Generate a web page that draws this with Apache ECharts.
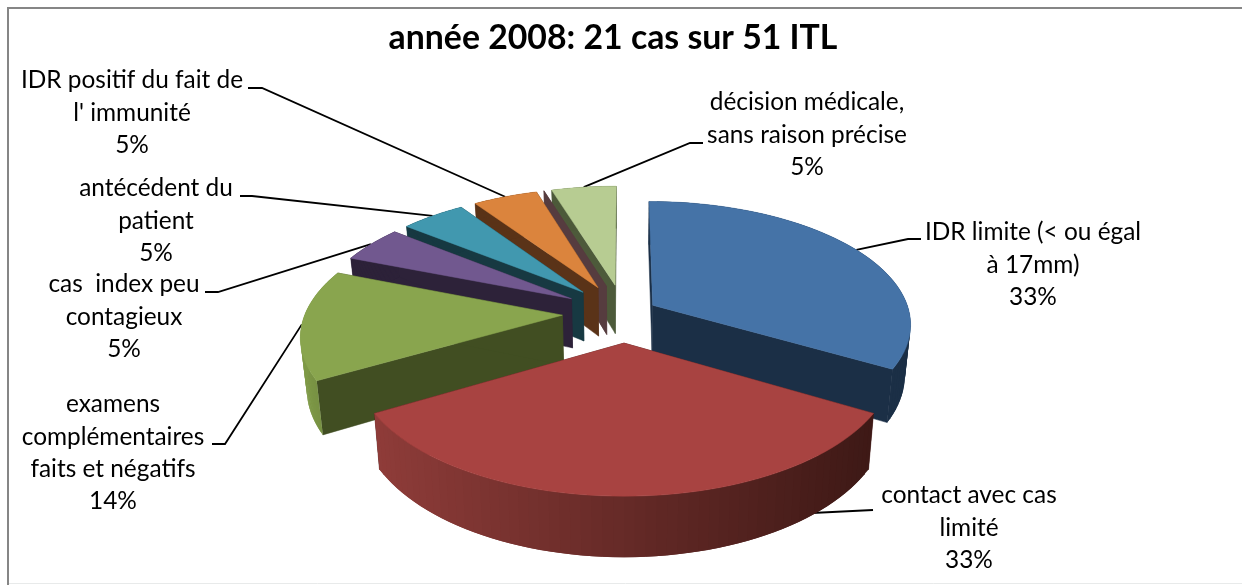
<!DOCTYPE html>
<html>
<head>
<meta charset="utf-8">
<title>année 2008</title>
<style>
html, body { margin: 0; padding: 0; background: #fff; }
#chart { width: 1242px; height: 585px; }
</style>
<script src="https://cdn.jsdelivr.net/npm/echarts@6/dist/echarts.min.js"></script>
</head>
<body>
<div id="chart"></div>
<script>
// nombre de cas par motif, le motif vide n'a qu'une paroi dans l'original
var categories = [
    'IDR limite (< ou égal\nà 17mm)',
    'contact avec cas\nlimité',
    'examens\ncomplémentaires\nfaits et négatifs',
    'cas  index peu\ncontagieux',
    'antécédent du\npatient',
    'IDR positif du fait de\nl\' immunité',
    '',
    'décision médicale,\nsans raison précise'
];
var cases = [7, 7, 3, 1, 1, 1, 0, 1];
var titleText = 'année 2008: 21 cas sur 51 ITL';

// style
var topColors = ['#4573a7', '#a84341', '#89a54e', '#71588f', '#4198af', '#db843d', '#9d8ba8', '#b7cc92'];
var sideColors = ['#1b2f46', '#451b18', '#414e22', '#2d2239', '#173942', '#5a3318', '#563c3f', '#4d5a3a'];
// paroi exterieure, couleur a gauche puis a droite
var rimColors = [
    ['#1b2f46', '#1b2f46'],
    ['#8f3c39', '#3e1916'],
    ['#7f9a47', '#6f873f'],
    ['#2d2239', '#2d2239'],
    ['#173942', '#173942'],
    ['#5a3318', '#5a3318'],
    ['#563c3f', '#563c3f'],
    ['#4d5a3a', '#4d5a3a']
];
var explode = [0.13, 0.24, 0.24, 0.24, 0.24, 0.24, 0.24, 0.24];
var paintOrder = [7, 6, 5, 4, 3, 2, 0, 1];

// layout: centre du texte et coude de la ligne de rappel
var labelPos = [
    { x: 1033, y: 265, elbow: [[921, 239], [908, 239]] },
    { x: 969, y: 528, elbow: [[873, 510], [812, 513]], noAnchor: true },
    { x: 113, y: 453, elbow: [[212, 444], [225, 444]] },
    { x: 124, y: 317, elbow: [[205, 292], [218, 292]] },
    { x: 156, y: 221, elbow: [[240, 196], [252, 196]] },
    { x: 132, y: 113, elbow: [[248, 88], [262, 88]] },
    null,
    { x: 807, y: 135, elbow: [[703, 143], [690, 143]] }
];
var cx = 624, cy = 313, radiusX = 257, radiusY = 121, persp = 0.146, depth = 50, shrink = 0.98;

var total = 0;
cases.forEach(function (v) { total += v; });
var slices = [];
var acc = 0;
cases.forEach(function (v) {
    var a0 = acc / total * Math.PI * 2;
    acc += v;
    slices.push({ a0: a0, a1: acc / total * Math.PI * 2, mid: (a0 + acc / total * Math.PI * 2) / 2 });
});

// plan du camembert vers l'ecran, angle 0 a midi, sens horaire
function project(i, theta, r, bottom) {
    var m = slices[i].mid, e = explode[i];
    var X = r * Math.sin(theta) + e * Math.sin(m);
    var Y = -r * Math.cos(theta) - e * Math.cos(m);
    var s = 1 / (1 - persp * Y);
    var x = radiusX * X * s;
    var y = radiusY * Y * s;
    if (bottom) {
        return [cx + x * shrink, cy + y + depth * s];
    }
    return [cx + x, cy + y];
}
function arcPoints(i, bottom) {
    var pts = [], n = 60;
    for (var k = 0; k <= n; k++) {
        pts.push(project(i, slices[i].a0 + (slices[i].a1 - slices[i].a0) * k / n, 1, bottom));
    }
    return pts;
}
function wall(i, theta, color) {
    return {
        type: 'polygon',
        shape: { points: [project(i, 0, 0, false), project(i, theta, 1, false), project(i, theta, 1, true), project(i, 0, 0, true)] },
        style: { fill: color, stroke: color, lineWidth: 0.5 }
    };
}
// la paroi exterieure en bandes qui se recouvrent, degrade de gauche a droite
function rimStrips(i, top) {
    var low = arcPoints(i, true);
    var xs = top.map(function (p) { return p[0]; });
    var minX = Math.min.apply(null, xs), maxX = Math.max.apply(null, xs);
    var strips = [];
    for (var k = 0; k < top.length - 1; k++) {
        var t = (top[k][0] - minX) / (maxX - minX);
        var next = Math.min(k + 2, top.length - 1);
        strips.push({
            type: 'polygon',
            shape: { points: [top[k], top[next], low[next], low[k]] },
            style: { fill: echarts.color.lerp(t, rimColors[i]) }
        });
    }
    return strips;
}

function renderSlice(params, api) {
    var i = api.value(0);
    var top = arcPoints(i, false);
    var children = [wall(i, slices[i].a0, sideColors[i]), wall(i, slices[i].a1, sideColors[i])];
    if (cases[i] > 0) {
        children = children.concat(rimStrips(i, top));
        children.push({
            type: 'polygon',
            shape: { points: [project(i, 0, 0, false)].concat(top) },
            style: { fill: topColors[i], stroke: topColors[i], lineWidth: 0.5 }
        });
    }
    return { type: 'group', children: children };
}

function renderLeader(params, api) {
    var i = api.value(0);
    var p = labelPos[i];
    var pts = p.elbow.slice();
    if (!p.noAnchor) {
        pts.push(project(i, slices[i].mid, 1, false));
    }
    return { type: 'polyline', shape: { points: pts }, style: { fill: 'none', stroke: '#000', lineWidth: 1.8 } };
}

function renderLabel(params, api) {
    var i = api.value(0);
    var p = labelPos[i];
    return {
        type: 'text',
        x: p.x,
        y: p.y,
        style: {
            text: categories[i] + '\n' + Math.round(cases[i] / total * 100) + '%',
            font: '24.4px Lato',
            lineHeight: 32.4,
            fill: '#000',
            align: 'center',
            verticalAlign: 'middle'
        }
    };
}

var labelled = [];
cases.forEach(function (v, i) {
    if (v > 0) labelled.push([i]);
});

var chart = echarts.init(document.getElementById('chart'), null, { renderer: 'canvas' });
chart.setOption({
    animation: false,
    backgroundColor: '#fff',
    title: {
        text: titleText,
        left: 608,
        top: 16,
        textAlign: 'center',
        textStyle: { fontFamily: 'Lato', fontWeight: 'bold', fontSize: 33.8, color: '#000' }
    },
    graphic: [{
        type: 'rect',
        shape: { x: 8, y: 8, width: 1300, height: 640 },
        style: { fill: 'none', stroke: '#868686', lineWidth: 2 },
        silent: true
    }, {
        type: 'line',
        shape: { x1: 9, y1: 583.5, x2: 1242, y2: 583.5 },
        style: { stroke: '#e8eaea', lineWidth: 1 },
        silent: true
    }],
    series: [
        { type: 'custom', coordinateSystem: 'none', z: 1, renderItem: renderLeader, data: labelled, silent: true },
        { type: 'custom', coordinateSystem: 'none', z: 2, renderItem: renderSlice,
          data: paintOrder.map(function (i) { return [i]; }), silent: true },
        { type: 'custom', coordinateSystem: 'none', z: 3, renderItem: renderLabel, data: labelled, silent: true }
    ]
});
</script>
</body>
</html>
